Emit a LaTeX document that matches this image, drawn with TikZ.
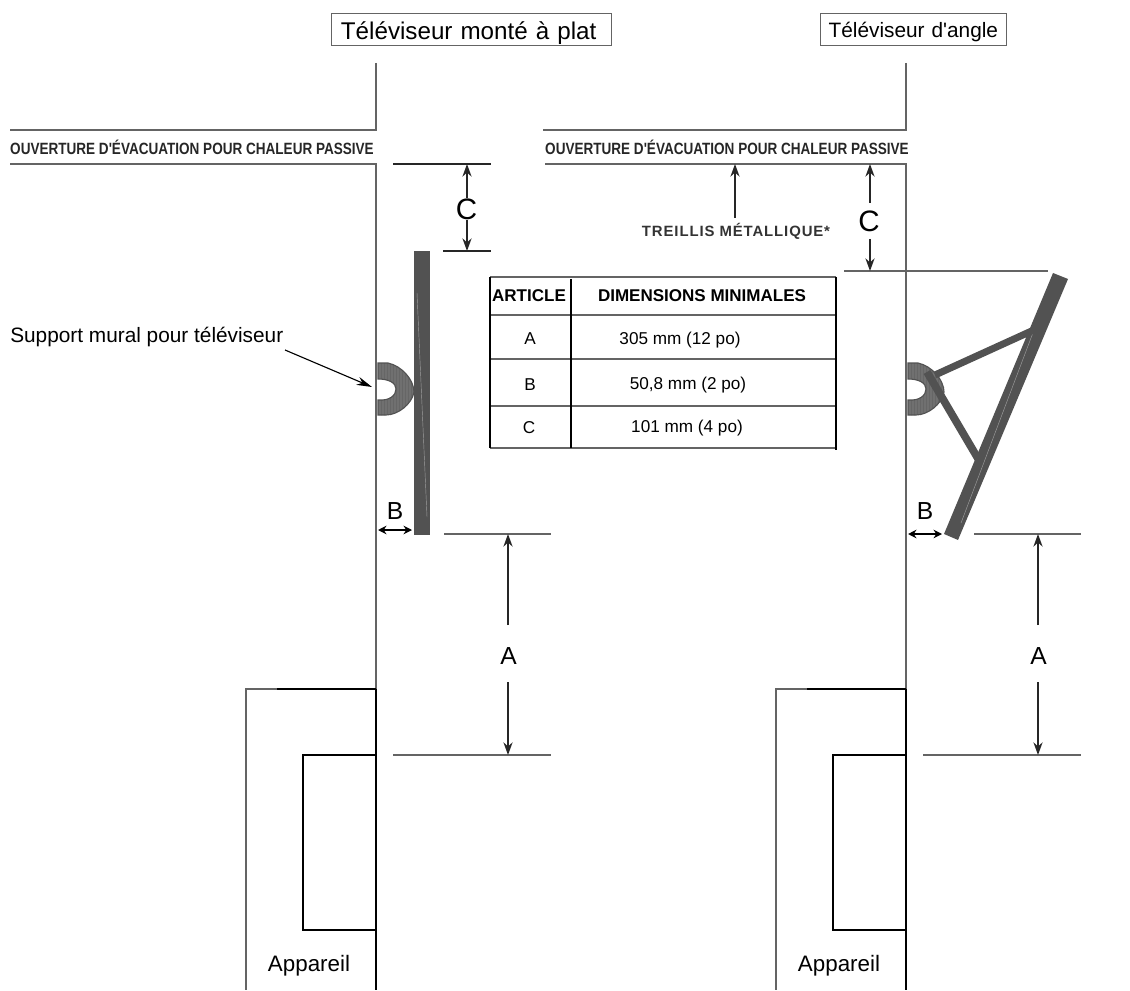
\documentclass[tikz,border=0pt]{standalone}
\usepackage{fontspec}
\setmainfont{Liberation Sans}
\usetikzlibrary{arrows.meta}

\definecolor{wallgray}{RGB}{100,100,100}
\definecolor{tvgray}{RGB}{82,82,82}
\definecolor{mountgray}{RGB}{112,112,112}

\tikzset{
  wall/.style={line width=1.6pt,draw=wallgray},
  stove/.style={line width=1.5pt,draw=black},
  limit/.style={line width=1.3pt,draw=wallgray},
  thinlimit/.style={line width=1pt,draw=black!85},
  dimen/.style={line width=1pt,draw=black!85,-{Stealth[length=9pt,width=6.5pt]}},
  short/.style={line width=1.1pt,draw=black,{Stealth[length=6pt,width=6pt]}-{Stealth[length=6pt,width=6pt]}},
  txt/.style={inner sep=0pt,text=black},
  titlebox/.style={draw=wallgray,line width=.8pt,fill=white,minimum height=22.4pt,anchor=west,inner sep=0pt,align=center},
  cell/.style={txt,font=\fontsize{12.2}{14}\selectfont},
  head/.style={txt,font=\fontsize{12.1}{14}\selectfont\bfseries},
  vent/.style={txt,anchor=west,xscale=.83,text=black!85,font=\fontsize{11.6}{13}\selectfont\bfseries},
  letter/.style={txt,font=\fontsize{17.5}{19}\selectfont},
  bigletter/.style={txt,font=\fontsize{21}{23}\selectfont}
}

\begin{document}
\begin{tikzpicture}[x=.025cm,y=-.025cm]
\useasboundingbox (0,0) rectangle (1130,991);

\def\wl{376}; \def\wr{906};

% walls and vent lines
\draw[wall] (\wl,63)--(\wl,130)--(10,130);
\draw[wall] (10,164)--(\wl,164)--(\wl,990);
\draw[wall] (\wr,63)--(\wr,130)--(543,130);
\draw[wall] (545,164)--(\wr,164)--(\wr,990);

\node[titlebox,minimum width=199pt,text width=199pt,font=\fontsize{17.2}{20}\selectfont] (flat) at (331,29.5) {\kern-4pt\raisebox{-7pt}[0pt][0pt]{Téléviseur monté à plat}};
\node[titlebox,minimum width=132pt,text width=132pt,font=\fontsize{14.8}{17}\selectfont] (corner) at (820,29.5) {\raisebox{-6pt}[0pt][0pt]{Téléviseur d\textquotesingle angle}};

\node[vent] (ventl) at (10,147) {OUVERTURE D\textquotesingle ÉVACUATION POUR CHALEUR PASSIVE};
\node[vent] (ventr) at (545,147) {OUVERTURE D\textquotesingle ÉVACUATION POUR CHALEUR PASSIVE};

% appliance and dimension A on both sides
\foreach \x/\n in {\wl/l,\wr/r}{
\draw[wall] (\x-99,689)--(\x-130,689)--(\x-130,990);
\draw[stove] (\x-99,689)--(\x,689);
\draw[stove] (\x,689)--(\x,990);
\draw[stove] (\x,755)--(\x-73,755)--(\x-73,930)--(\x,930);
\node[txt,font=\fontsize{15.9}{18}\selectfont] (stove\n) at (\x-67,966) {Appareil};

\draw[limit] (\x+68,534)--(\x+175,534);
\draw[limit] (\x+17,755)--(\x+175,755);
\coordinate (atop\n) at (\x+132,534);
\coordinate (abot\n) at (\x+132,755);
\node[letter] (a\n) at (\x+132.5,656) {A};
\draw[dimen] (\x+132,625)--(atop\n);
\draw[dimen] (\x+132,682)--(abot\n);

% wall mount
\begin{scope}[shift={(\x-376,0)}]
\def\mountpath{(378,363)--(388,363) .. controls (402,366) and (414,380) .. (414,392) .. controls (412,404) and (398,415) .. (386,415)--(378,415)--(378,400) .. controls (390,401) and (396,395) .. (396,389) .. controls (396,383) and (389,379) .. (378,379)--cycle}
\begin{scope}
\clip \mountpath;
\fill[mountgray] (370,355) rectangle (420,420);
\foreach \k in {381,384,...,411}{
\draw[line width=.5pt,black!60] (\k,360)--(\k,418);
}
\end{scope}
\draw[line width=.8pt,tvgray] \mountpath;
\end{scope}
}

% flat screen
\fill[tvgray] (414,251) rectangle (430,535);
\draw[line width=.3pt,tvgray!55!white] (417,293)--(427,517);
\draw[thinlimit] (393,164)--(491,164);
\draw[thinlimit] (443,251)--(491,251);
\coordinate (ctopl) at (467,164);
\coordinate (cbotl) at (467,251);
\node[bigletter] (cl) at (466.5,209) {C};
\draw[dimen] (467,198)--(ctopl);
\draw[dimen] (467,220)--(cbotl);
\node[letter] (bl) at (395,511) {B};
\coordinate (bal) at (378,530);
\coordinate (bbl) at (412,530);
\draw[short] (bal)--(bbl);

% corner screen
\fill[tvgray] (1053,273)--(1068,279)--(958,540)--(944,534)--cycle;
\draw[line width=.3pt,tvgray!55!white] (1034,330)--(961,523);
\draw[tvgray,line width=5pt] (935,375)--(1036,329);
\draw[tvgray,line width=5.5pt] (927,372)--(980,462);
\draw[limit] (844,271)--(1048,271);
\coordinate (ctopr) at (870,164);
\coordinate (cbotr) at (870,271);
\node[bigletter] (cr) at (869,221) {C};
\draw[dimen] (870,203)--(ctopr);
\draw[dimen] (870,239)--(cbotr);
\node[letter] (br) at (925,511) {B};
\coordinate (bar) at (908,534);
\coordinate (bbr) at (942,534);
\draw[short] (bar)--(bbr);

% mesh and bracket callouts
\coordinate (meshtip) at (735,164);
\node[txt,text=black!80,font=\fontsize{10.6}{12}\selectfont\bfseries] (mesh) at (736,231) {\addfontfeature{LetterSpace=6}TREILLIS MÉTALLIQUE*};
\draw[dimen] (735,218)--(meshtip);
\node[txt,anchor=west,font=\fontsize{14.8}{17}\selectfont] (support) at (10,337) {Support mural pour téléviseur};
\coordinate (supporttip) at (372,387);
\draw[line width=.8pt,-{Stealth[length=11pt,width=6pt]}] (285,350)--(supporttip);

% table
\draw[limit] (490,277)--(836,277);
\draw[limit] (490,315)--(836,315);
\draw[limit] (490,359)--(836,359);
\draw[limit] (490,406)--(836,406);
\draw[limit] (490,448)--(836,448);
\draw[line width=1.3pt] (490,277)--(490,448);
\draw[line width=1.3pt] (571,279)--(571,448);
\draw[line width=1.3pt] (836,277)--(836,450);

\node[head] (article) at (529,296) {ARTICLE};
\node[head] (dims) at (702,296) {DIMENSIONS MINIMALES};
\node[cell] (rowa) at (530,339) {A};
\node[cell] (rowb) at (530,385) {B};
\node[cell] (rowc) at (529,428) {C};
\node[cell] (vala) at (680,340) {305 mm (12 po)};
\node[cell] (valb) at (688,385) {50,8 mm (2 po)};
\node[cell] (valc) at (687,428) {101 mm (4 po)};

\end{tikzpicture}
\end{document}
